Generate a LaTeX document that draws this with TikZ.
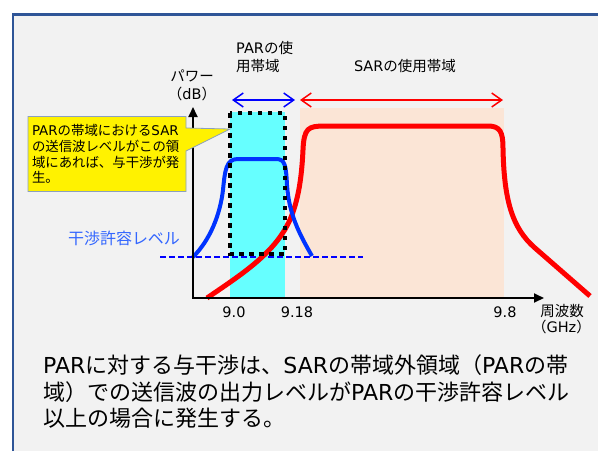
\documentclass[tikz,border=0pt]{standalone}
\usepackage{fontspec}
\setmainfont{Noto Sans CJK JP}
\newfontfamily\latfont{DejaVu Sans}
\newcommand\ltn[1]{{\latfont #1}}
\usepackage{tikz}
\usetikzlibrary{arrows.meta,positioning,shapes.callouts}
\definecolor{panelgray}{RGB}{242,242,242}
\definecolor{panelblue}{RGB}{47,85,151}
\definecolor{sarpeach}{RGB}{251,229,214}
\definecolor{parcyan}{RGB}{102,255,255}
\definecolor{parblue}{RGB}{0,51,255}
\definecolor{levelblue}{RGB}{51,102,255}
\definecolor{notegray}{RGB}{140,160,190}

\begin{document}
\begin{tikzpicture}[x=1pt,y=-1pt,
  lbl/.style={font=\fontsize{14.5}{18}\selectfont,inner sep=0pt},
  band/.style={line width=1.5pt,{Straight Barb[length=10pt,width=14pt]}-{Straight Barb[length=10pt,width=14pt]}},
  axis/.style={line width=2pt,{Triangle[length=10pt,width=9pt]}-{Triangle[length=10pt,width=9pt]}}]
\useasboundingbox (0,0) rectangle (598,451);
% panel
\fill[panelgray] (13,14.5) rectangle (598,451);
\draw[panelblue,line width=2.3pt] (13,451) -- (13,14.5) -- (598,14.5);
% bands
\fill[sarpeach] (300,108) rectangle (504,298);
\fill[parcyan] (230,112) rectangle (285,298);
\coordinate (lvlL) at (160,257);
\coordinate (lvlR) at (363,257);
\draw[blue,line width=1.3pt,dash pattern=on 6pt off 3pt] (lvlL) -- (lvlR);
% SAR spectrum
\draw[red,line width=5pt] (207,298) .. controls (245,272) and (280,250) .. (293,212)
  .. controls (300,192) and (302,170) .. (303,150)
  .. controls (304,128) and (308,126) .. (325,126) -- (488,126)
  .. controls (500,126) and (503,132) .. (503,148)
  .. controls (504,200) and (512,228) .. (535,248) -- (590,296);
% PAR spectrum
\draw[parblue,line width=4pt] (193,257) .. controls (210,240) and (220,215) .. (223,190)
  .. controls (225,170) and (226,159) .. (238,159) -- (276,159)
  .. controls (285,159) and (286,165) .. (287,185)
  .. controls (289,215) and (300,235) .. (312,256);
\draw[line width=4.5pt,dash pattern=on 4.5pt off 5.5pt] (230,113) rectangle (285,254);
% axes
\coordinate (ytip) at (193,107);
\coordinate (xtip) at (544,298);
\draw[axis] (ytip) |- (xtip);
% band arrows
\coordinate (parL) at (232,100);
\coordinate (parR) at (295,100);
\coordinate (sarL) at (300,100);
\coordinate (sarR) at (503,100);
\draw[band,blue] (parL) -- (parR);
\draw[band,red] (sarL) -- (sarR);
% labels
\node[lbl,align=left,anchor=west] (parband) at (236,57) {\ltn{PAR}の使\\用帯域};
\node[lbl,align=center] (power) at (192,85) {パワー\\（\ltn{dB}）};
\node[lbl] (sarband) at (405,66) {\ltn{SAR}の使用帯域};
\node[font=\fontsize{16}{19}\selectfont,text=levelblue,inner sep=0pt] (level) at (124,238) {干渉許容レベル};
\foreach \x/\t [count=\i] in {234/9.0,297/9.18,505/9.8}
  \node[lbl] (tick\i) at (\x,312) {\ltn{\t}};
\node[lbl] (freq) at (562,311) {周波数};
\node[lbl,anchor=east] (ghz) at (591,327) {（\ltn{GHz}）};
% note
\node[rectangle callout,callout absolute pointer={(230,129)},callout pointer width=23pt,
  fill=yellow,draw=notegray,line width=0.8pt,text width=150pt,inner xsep=4pt,
  minimum height=75pt,align=left,font=\fontsize{13.4}{15.7}\selectfont] (note) at (107,154)
  {\ltn{PAR}の帯域における\ltn{SAR}\\の送信波レベルがこの領\\域にあれば、与干渉が発\\生。};
\node[font=\fontsize{22}{26.5}\selectfont,align=left,anchor=west,inner sep=0pt] (summary) at (43,392)
  {\ltn{PAR}に対する与干渉は、\ltn{SAR}の帯域外領域（\ltn{PAR}の帯\\域）での送信波の出力レベルが\ltn{PAR}の干渉許容レベル\\以上の場合に発生する。};
\end{tikzpicture}
\end{document}
